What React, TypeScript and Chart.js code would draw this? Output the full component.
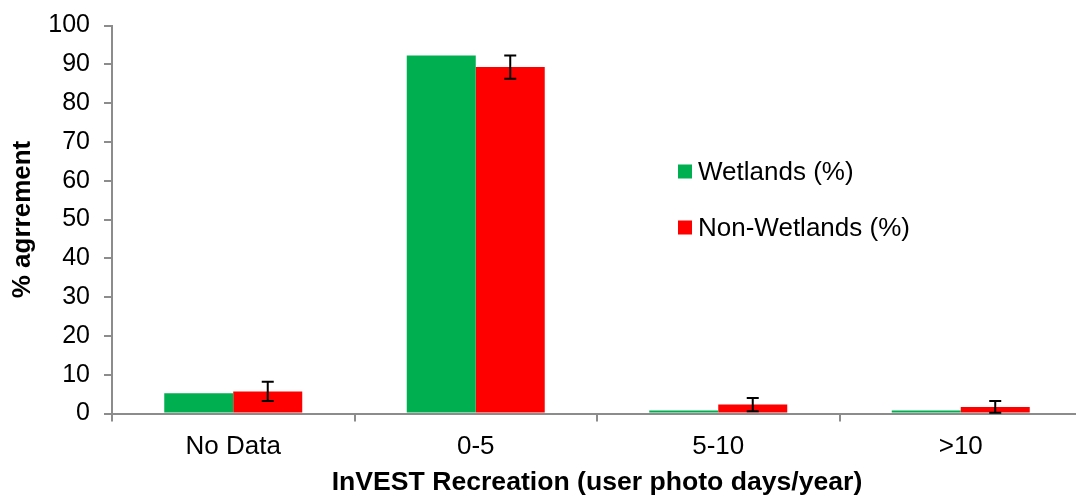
import React, { useEffect, useRef } from "react";
import { Chart, registerables } from "chart.js";

Chart.register(...registerables);

const categories = ["No Data", "0-5", "5-10", ">10"];
const wetlands = [5.2, 92.3, 0.8, 0.8];
const nonWetlands = [5.7, 89.3, 2.3, 1.7];
const nonWetlandsErr = [2.5, 3.0, 1.7, 1.5];
const seriesLabels = ["Wetlands (%)", "Non-Wetlands (%)"];
const yTitle = "% agrrement";
const xTitle = "InVEST Recreation (user photo days/year)";

const GREEN = "#00B050";
const RED = "#FF0000";
const AXIS = "#8c8c8c";
const FONT = "Arial, 'Liberation Sans', sans-serif";

const errorBarPlugin = {
  id: "errorBars",
  afterDatasetsDraw(chart: any) {
    const meta = chart.getDatasetMeta(1);
    const y = chart.scales.y;
    const ctx = chart.ctx;
    ctx.save();
    ctx.strokeStyle = "#000";
    ctx.lineWidth = 2;
    meta.data.forEach((bar: any, i: number) => {
      const v = nonWetlands[i];
      const e = nonWetlandsErr[i];
      const yTop = y.getPixelForValue(v + e);
      const yBot = y.getPixelForValue(v - e);
      const x = bar.x;
      ctx.beginPath();
      ctx.moveTo(x, yTop);
      ctx.lineTo(x, yBot);
      ctx.moveTo(x - 6, yTop);
      ctx.lineTo(x + 6, yTop);
      ctx.moveTo(x - 6, yBot);
      ctx.lineTo(x + 6, yBot);
      ctx.stroke();
    });
    ctx.restore();
  },
};

const legendPlugin = {
  id: "insideLegend",
  afterDraw(chart: any) {
    const ctx = chart.ctx;
    const area = chart.chartArea;
    const x0 = area.left + 566;
    const rows = [area.top + 146, area.top + 202];
    ctx.save();
    ctx.font = `26px ${FONT}`;
    ctx.textBaseline = "middle";
    ctx.textAlign = "left";
    chart.data.datasets.forEach((ds: any, i: number) => {
      const cy = rows[i];
      ctx.fillStyle = ds.backgroundColor;
      ctx.fillRect(x0, cy - 7, 14, 14);
      ctx.fillStyle = "#000";
      ctx.fillText(ds.label, x0 + 20, cy + 1);
    });
    ctx.restore();
  },
};

export default function App() {
  const ref = useRef<HTMLCanvasElement>(null);
  useEffect(() => {
    if (!ref.current) return;
    const chart = new Chart(ref.current, {
      type: "bar",
      data: {
        labels: categories,
        datasets: [
          {
            label: seriesLabels[0],
            data: wetlands,
            backgroundColor: GREEN,
            categoryPercentage: 0.569,
            barPercentage: 1,
          },
          {
            label: seriesLabels[1],
            data: nonWetlands,
            backgroundColor: RED,
            categoryPercentage: 0.569,
            barPercentage: 1,
          },
        ],
      },
      options: {
        responsive: false,
        animation: false,
        layout: { padding: { left: 0, right: 10, top: 25.5, bottom: 0 } },
        plugins: {
          legend: { display: false },
          tooltip: { enabled: false },
        },
        scales: {
          x: {
            grid: {
              drawOnChartArea: false,
              drawTicks: true,
              tickLength: 8,
              color: AXIS,
              lineWidth: 2,
              offset: true,
            },
            border: { display: true, color: AXIS, width: 2 },
            ticks: {
              color: "#000",
              font: { family: FONT, size: 26 },
              padding: 10,
              maxRotation: 0,
            },
            title: {
              display: true,
              text: xTitle,
              color: "#000",
              font: { family: FONT, size: 26.6, weight: "bold" },
              padding: { top: 0, bottom: 0 },
            },
            afterFit(scale: any) {
              scale.height = 85.5;
              scale.paddingLeft = 0;
              scale.paddingRight = 0;
            },
          },
          y: {
            min: 0,
            max: 100,
            grid: {
              drawOnChartArea: false,
              drawTicks: true,
              tickLength: 8,
              color: AXIS,
              lineWidth: 2,
            },
            border: { display: true, color: AXIS, width: 2 },
            ticks: {
              stepSize: 10,
              color: "#000",
              font: { family: FONT, size: 25 },
              padding: 14,
            },
            title: {
              display: true,
              text: yTitle,
              color: "#000",
              font: { family: FONT, size: 26, weight: "bold" },
              padding: { top: 7, bottom: 0 },
            },
            afterFit(scale: any) {
              scale.width = 112;
              scale.paddingTop = 0;
              scale.paddingBottom = 0;
            },
          },
        },
      },
      plugins: [errorBarPlugin, legendPlugin],
    });
    return () => chart.destroy();
  }, []);

  return (
    <div
      style={{
        position: "fixed",
        left: 0,
        top: 0,
        width: 1076,
        height: 499,
        overflow: "hidden",
        background: "#fff",
      }}
    >
      <canvas ref={ref} width={1092} height={499} style={{ display: "block" }} />
    </div>
  );
}
